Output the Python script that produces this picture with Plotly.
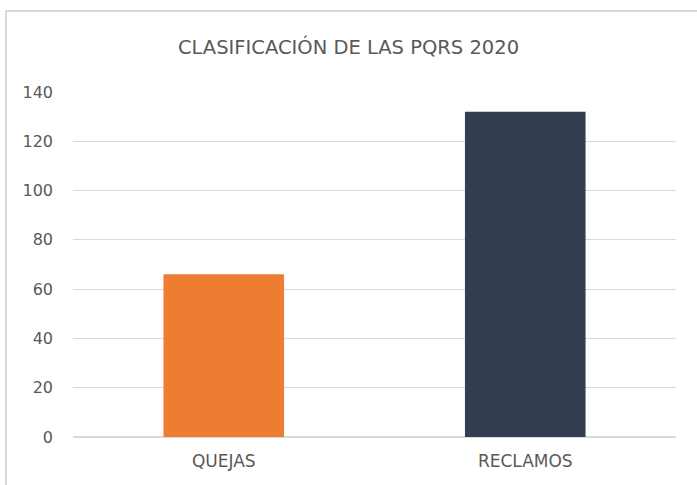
import plotly.graph_objects as go

categories = ["QUEJAS", "RECLAMOS"]
values = [66, 132]
bar_colors = ["#ED7D31", "#333F50"]
y_ticks = [0, 20, 40, 60, 80, 100, 120, 140]
title_text = "CLASIFICACIÓN DE LAS PQRS 2020"

W, H = 697, 485
ml, mr, mt, mb = 73, 21, 92, 48
pw, ph = W - ml - mr, H - mt - mb

font_family = "DejaVu Sans, sans-serif"
text_gray = "#595959"
grid_gray = "#D9D9D9"

fig = go.Figure(
    go.Bar(
        x=categories,
        y=values,
        marker=dict(color=bar_colors, line=dict(width=0)),
        width=0.4,
    )
)

# chart-area frame (runs past the right and bottom edges of the page)
fig.add_shape(
    type="rect", xref="paper", yref="paper",
    x0=(6 - ml) / pw, x1=(W + 30 - ml) / pw,
    y0=(H - mb - (H + 30)) / ph, y1=(H - mb - 11) / ph,
    line=dict(color=grid_gray, width=2), fillcolor="rgba(0,0,0,0)", layer="below",
)

fig.update_layout(
    width=W, height=H,
    margin=dict(l=ml, r=mr, t=mt, b=mb, pad=0),
    paper_bgcolor="white", plot_bgcolor="white",
    showlegend=False,
    title=dict(
        text=title_text, x=0.5, xanchor="center",
        y=(H - 47) / H, yanchor="middle",
        font=dict(family=font_family, size=19.5, color=text_gray),
    ),
    font=dict(family=font_family, size=16, color=text_gray),
    xaxis=dict(
        showgrid=False, showline=False, zeroline=False, ticks="",
        ticklabelstandoff=12,
        tickfont=dict(family=font_family, size=17, color=text_gray),
    ),
    yaxis=dict(
        range=[0, 140], tickvals=y_ticks,
        showgrid=True, gridcolor=grid_gray, gridwidth=1,
        zeroline=True, zerolinecolor=grid_gray, zerolinewidth=1.5,
        showline=False, ticks="",
        ticklabelstandoff=19,
        tickfont=dict(family=font_family, size=16, color=text_gray),
    ),
)

fig.write_html("out.html")
